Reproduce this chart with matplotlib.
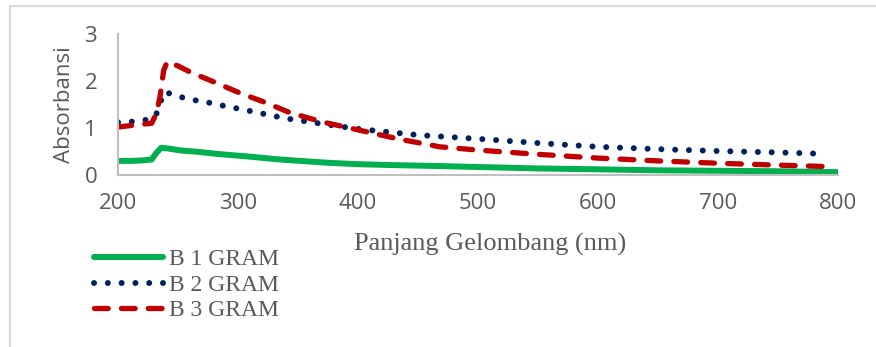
import matplotlib.pyplot as plt
from matplotlib.patches import Rectangle

# panjang gelombang (nm) dan absorbansi tiap sampel
nm_b1 = [200, 210, 220, 228, 232, 236, 240, 253, 268, 282, 296, 310, 335, 352, 375, 400,
         430, 468, 500, 550, 602, 650, 700, 750, 800]
b1 = [0.30, 0.30, 0.31, 0.33, 0.47, 0.58, 0.57, 0.52, 0.49, 0.45, 0.42, 0.39, 0.33, 0.30,
      0.26, 0.23, 0.21, 0.19, 0.17, 0.14, 0.12, 0.10, 0.09, 0.08, 0.06]

nm_b2 = [200, 210, 220, 228, 232, 235, 239, 249, 260, 271, 282, 293, 304, 315, 326, 338,
         349, 375, 400, 450, 500, 550, 600, 650, 700, 750, 790]
b2 = [1.12, 1.13, 1.16, 1.19, 1.30, 1.53, 1.77, 1.68, 1.61, 1.56, 1.51, 1.44, 1.40, 1.33,
      1.28, 1.21, 1.17, 1.07, 0.98, 0.85, 0.77, 0.68, 0.60, 0.55, 0.51, 0.48, 0.45]

nm_b3 = [200, 210, 220, 228, 232, 235, 238, 241, 250, 261, 279, 302, 321, 343, 370, 400,
         435, 468, 500, 550, 600, 650, 700, 750, 790]
b3 = [1.02, 1.05, 1.08, 1.10, 1.31, 1.66, 2.22, 2.41, 2.32, 2.18, 1.99, 1.74, 1.56, 1.33,
      1.13, 0.96, 0.76, 0.60, 0.53, 0.44, 0.36, 0.30, 0.25, 0.21, 0.18]

grey = "#595959"
fig = plt.figure(figsize=(8.76, 3.47), dpi=100)
fig.patches.append(Rectangle((10 / 876, -0.1), 1.2, 1 - 6 / 347 + 0.1, transform=fig.transFigure,
                             fill=False, edgecolor="#D9D9D9", linewidth=1.5))
ax = fig.add_axes([118 / 876, 1 - 175 / 347, 720 / 876, 141 / 347])

ax.plot(nm_b1, b1, color="#00B050", lw=4.3, solid_capstyle="round", label="B 1 GRAM")
ax.plot(nm_b2, b2, color="#002060", lw=4.3, linestyle=(0, (0.01, 2.3)),
        dash_capstyle="round", label="B 2 GRAM")
ax.plot(nm_b3, b3, color="#C00000", lw=3.8, linestyle=(0, (2.6, 2.5)),
        dash_capstyle="round", label="B 3 GRAM")

ax.set_xlim(200, 800)
ax.set_ylim(0, 3)
ax.set_xticks([200, 300, 400, 500, 600, 700, 800])
ax.set_yticks([0, 1, 2, 3])
ax.tick_params(length=0, labelsize=16, labelcolor=grey)
ax.tick_params(axis="y", pad=15)
ax.tick_params(axis="x", pad=13)
for lab in ax.get_xticklabels() + ax.get_yticklabels():
    lab.set_family("Open Sans")
for s in ["top", "right"]:
    ax.spines[s].set_visible(False)
for s in ["left", "bottom"]:
    ax.spines[s].set_color("#BFBFBF")
    ax.spines[s].set_linewidth(1.5)

ax.set_ylabel("Absorbansi", fontsize=16, color=grey, family="Open Sans", labelpad=7)
fig.text(490 / 876, 1 - 244 / 347, "Panjang Gelombang (nm)", ha="center", va="center",
         fontsize=19, color=grey, family="Liberation Serif")

leg = fig.legend(loc="upper left", bbox_to_anchor=(82 / 876, 1 - 237 / 347), frameon=False,
                 prop={"family": "Liberation Serif", "size": 17}, handlelength=2.95,
                 handletextpad=0.25, labelspacing=0.17, borderpad=0)
for t in leg.get_texts():
    t.set_color(grey)

plt.savefig("out.png", dpi=100)
